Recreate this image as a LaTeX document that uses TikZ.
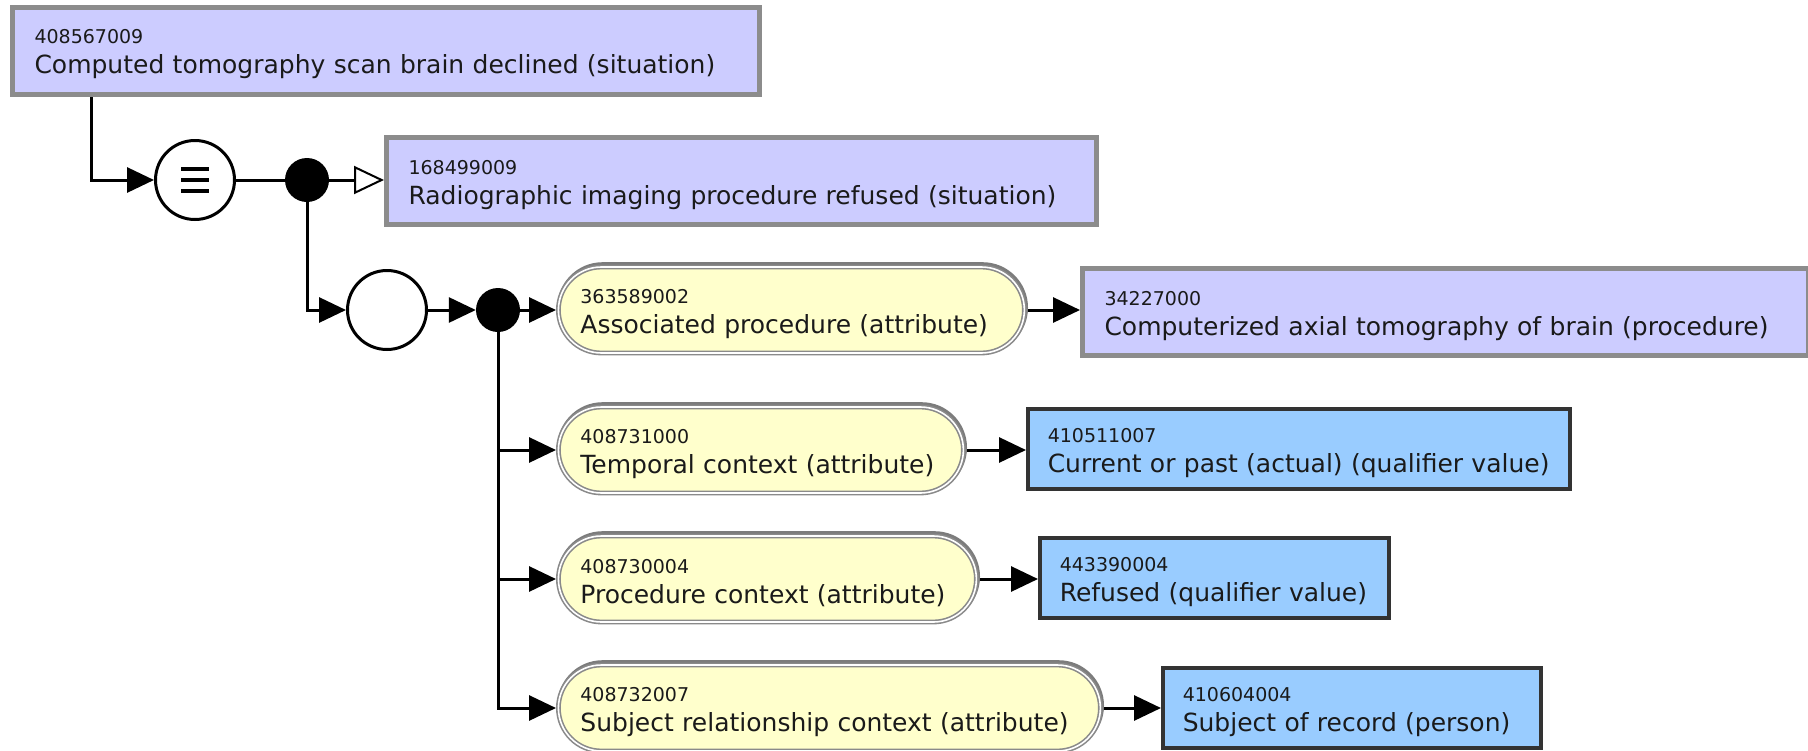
\documentclass[tikz,border=0pt]{standalone}
\usepackage{fontspec}
\setmainfont{DejaVu Sans}
\usetikzlibrary{arrows.meta,backgrounds}

\definecolor{conceptfill}{HTML}{CCCCFF}
\definecolor{conceptline}{HTML}{8C8C8C}
\definecolor{attrfill}{HTML}{FFFFCC}
\definecolor{attrline}{HTML}{8A8A8A}
\definecolor{valuefill}{HTML}{99CCFF}
\definecolor{valueline}{HTML}{333333}
\definecolor{labeltext}{HTML}{1A1A1A}

% concept id on the first line (smaller), preferred term on the second
\newcommand{\sctlabel}[2]{{\fontsize{19}{30}\selectfont\rule{0pt}{22pt}#1}\\\mbox{#2}}

\tikzset{
  x=1pt, y=-1pt,
  termtext/.style={font=\fontsize{25}{30}\selectfont, text=labeltext, align=left,
                   anchor=west, inner ysep=0pt},
  concept/.style={termtext, draw=conceptline, line width=5pt, fill=conceptfill,
                  inner xsep=22pt, minimum height=87pt},
  value/.style={termtext, draw=valueline, line width=3.5pt, fill=valuefill,
                inner xsep=20pt, minimum height=80pt},
  attr/.style={termtext, draw=attrline, line width=1.6pt, double=white,
               double distance=1.6pt, fill=attrfill, rounded corners=43pt,
               inner xsep=22pt, minimum height=86pt, outer sep=2.4pt,
               preaction={draw=attrline!90!black, line width=4.8pt,
                          transform canvas={shift={(1.2pt,2.4pt)}}}},
  hub/.style={circle, draw=black, line width=3pt, fill=white,
              minimum size=79pt, inner sep=0pt},
  joint/.style={circle, fill=black, minimum size=44pt, inner sep=0pt},
  equivmark/.style={path picture={
      \foreach \dy in {-11,0,11}
        \draw[line width=3.5pt]
          ([shift={(-14pt,\dy pt)}]path picture bounding box.center) -- ++(28pt,0pt);}},
  conn/.style={line width=3pt, -{Triangle[length=27pt,width=25pt]}},
  plainconn/.style={line width=3pt},
  isaconn/.style={line width=3pt,
                  -{Triangle[open,length=30pt,width=28pt,fill=white,line width=2pt]}},
}

\begin{document}
\begin{tikzpicture}
  \path[use as bounding box] (0,0) rectangle (1808,750);

  % defined concept and its parent
  \node[concept, text width=703pt] (b1) at (10,50.5)
    {\sctlabel{408567009}{Computed tomography scan brain declined (situation)}};
  \node[hub, equivmark] (eq) at (195,180) {};
  \node[joint] (d1) at (307,180) {};
  \node[concept, text width=666pt] (b2) at (384,181)
    {\sctlabel{168499009}{Radiographic imaging procedure refused (situation)}};

  % attribute group
  \node[hub] (grp) at (387,310) {};
  \node[joint] (d2) at (498,310) {};

  \node[attr, text width=422pt] (p1) at (556,310)
    {\sctlabel{363589002}{Associated procedure (attribute)}};
  \node[concept, text width=682pt] (b3) at (1080,312)
    {\sctlabel{34227000}{Computerized axial tomography of brain (procedure)}};

  \node[attr, text width=361pt] (p2) at (556,450)
    {\sctlabel{408731000}{Temporal context (attribute)}};
  \node[value, text width=502pt] (b4) at (1026,449)
    {\sctlabel{410511007}{Current or past (actual) (qualifier value)}};

  \node[attr, text width=374pt] (p3) at (556,579)
    {\sctlabel{408730004}{Procedure context (attribute)}};
  \node[value, text width=309pt] (b5) at (1038,578)
    {\sctlabel{443390004}{Refused (qualifier value)}};

  \node[attr, text width=498pt] (p4) at (556,708)
    {\sctlabel{408732007}{Subject relationship context (attribute)}};
  \node[value, text width=338pt] (b6) at (1161,708)
    {\sctlabel{410604004}{Subject of record (person)}};

  \begin{scope}[on background layer]
    \fill[white] (0,0) rectangle (1808,750);
    \draw[conn] ([xshift=81pt]b1.south west) |- (eq);
    \draw[plainconn] (eq) -- (d1);
    \draw[isaconn] (d1) -- (d1 -| b2.west);
    \draw[conn] (d1) |- (grp);
    \draw[conn] (grp) -- (d2);
    \draw[conn] (d2) -- (p1);
    \draw[conn] (d2) |- (p2.west);
    \draw[conn] (d2) |- (p3.west);
    \draw[conn] (d2) |- (p4.west);
    \draw[conn] (p1.east) -- (p1.east -| b3.west);
    \draw[conn] (p2.east) -- (p2.east -| b4.west);
    \draw[conn] (p3.east) -- (p3.east -| b5.west);
    \draw[conn] (p4.east) -- (p4.east -| b6.west);
  \end{scope}
\end{tikzpicture}
\end{document}
